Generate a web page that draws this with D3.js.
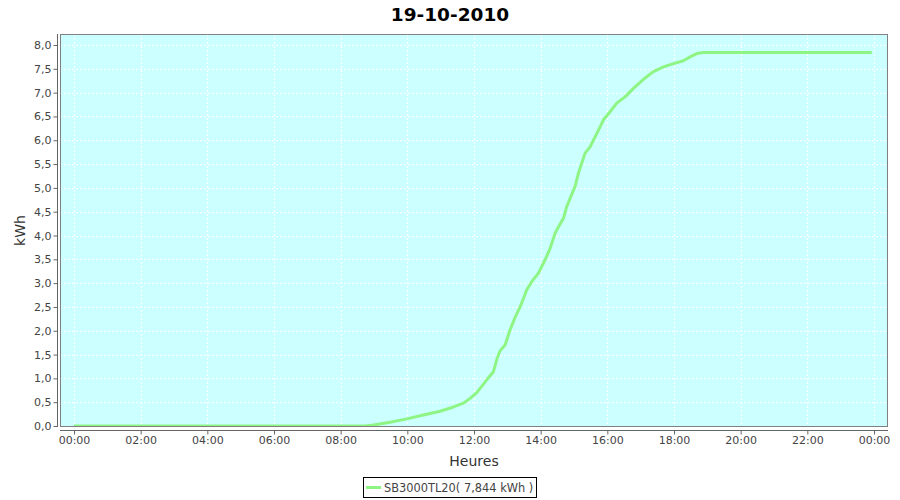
<!DOCTYPE html>
<html>
<head>
<meta charset="utf-8">
<script src="https://cdn.jsdelivr.net/npm/d3@7"></script>
<style>
  html, body { margin: 0; padding: 0; background: #ffffff; }
  svg { display: block; font-family: "DejaVu Sans", sans-serif; }
</style>
</head>
<body>
<svg id="chart" width="900" height="500"></svg>
<script>
const chartTitle = "19-10-2010";
const xAxisTitle = "Heures";
const yAxisTitle = "kWh";
const seriesName = "SB3000TL20( 7,844 kWh )";

const times = ["00:00","08:44","08:59","09:29","09:59","10:29","10:59","11:23","11:41","11:53",
  "12:05","12:23","12:35","12:41","12:47","12:56","13:05","13:14","13:23","13:35",
  "13:44","13:56","14:08","14:17","14:26","14:32","14:41","14:47","14:53","15:02",
  "15:08","15:14","15:20","15:29","15:38","15:47","15:53","16:05","16:17","16:32",
  "16:47","17:05","17:23","17:41","17:59","18:17","18:29","18:41","18:53","23:56"];
const values = [0,0,0.02,0.08,0.15,0.23,0.31,0.40,0.48,0.58,
  0.70,0.97,1.14,1.40,1.58,1.70,2.02,2.28,2.50,2.86,
  3.03,3.21,3.49,3.73,4.05,4.18,4.36,4.61,4.78,5.03,
  5.31,5.52,5.73,5.86,6.07,6.28,6.43,6.60,6.78,6.91,
  7.09,7.28,7.44,7.54,7.61,7.67,7.75,7.82,7.844,7.844];

const xTickHours = [0,2,4,6,8,10,12,14,16,18,20,22,24];
const xTickLabels = ["00:00","02:00","04:00","06:00","08:00","10:00","12:00","14:00","16:00","18:00","20:00","22:00","00:00"];
const yTicks = [0,0.5,1,1.5,2,2.5,3,3.5,4,4.5,5,5.5,6,6.5,7,7.5,8];

const toHours = s => { const [h, m] = s.split(":").map(Number); return h + m / 60; };
const data = times.map((t, i) => ({ x: toHours(t), y: values[i] }));

const plot = { left: 60, right: 888, top: 34, bottom: 427 };
const svg = d3.select("#chart");

const x = d3.scaleLinear().domain([-0.42, 24.42]).range([plot.left, plot.right]);
const y = d3.scaleLinear().domain([-0.021, 8.231]).range([plot.bottom, plot.top]);

// title
svg.append("text").attr("x", 450).attr("y", 21).attr("text-anchor", "middle")
  .attr("font-size", 18.5).attr("font-weight", "bold").attr("fill", "#000").text(chartTitle);

// plot background
svg.append("rect").attr("x", plot.left).attr("y", plot.top)
  .attr("width", plot.right - plot.left).attr("height", plot.bottom - plot.top)
  .attr("fill", "#ccffff");

// grid lines
const grid = svg.append("g").attr("stroke", "#ffffff").attr("stroke-width", 1)
  .attr("stroke-dasharray", "2,2").attr("shape-rendering", "crispEdges");
grid.selectAll("line.v").data(xTickHours).join("line").attr("class", "v")
  .attr("x1", d => Math.round(x(d)) + 0.5).attr("x2", d => Math.round(x(d)) + 0.5)
  .attr("y1", plot.top).attr("y2", plot.bottom);
grid.selectAll("line.h").data(yTicks).join("line").attr("class", "h")
  .attr("y1", d => Math.round(y(d)) + 0.5).attr("y2", d => Math.round(y(d)) + 0.5)
  .attr("x1", plot.left).attr("x2", plot.right);

// clip
svg.append("clipPath").attr("id", "clip").append("rect")
  .attr("x", plot.left).attr("y", plot.top)
  .attr("width", plot.right - plot.left).attr("height", plot.bottom - plot.top);

// series line
const line = d3.line().x(d => x(d.x)).y(d => y(d.y));
svg.append("path").datum(data).attr("clip-path", "url(#clip)")
  .attr("fill", "none").attr("stroke", "#8ef584").attr("stroke-width", 3)
  .attr("stroke-linejoin", "round").attr("d", line);

// plot border
svg.append("rect").attr("x", plot.left + 0.5).attr("y", plot.top + 0.5)
  .attr("width", plot.right - plot.left - 1).attr("height", plot.bottom - plot.top - 1)
  .attr("fill", "none").attr("stroke", "#808080").attr("stroke-width", 1);

// y axis
const yAxis = d3.axisLeft(y).tickValues(yTicks).tickSize(4).tickPadding(2)
  .tickFormat(d => d3.format(".1f")(d).replace(".", ","));
const gy = svg.append("g").attr("transform", "translate(57.5,0)").call(yAxis);
gy.select(".domain").attr("d", `M0,${plot.top}V${plot.bottom}`).attr("stroke", "#666");
gy.selectAll(".tick line").attr("stroke", "#666");
gy.selectAll(".tick text").attr("fill", "#444").attr("font-size", 11)
  .attr("font-family", "DejaVu Sans, sans-serif");

// x axis
const xAxis = d3.axisBottom(x).tickValues(xTickHours).tickSize(4).tickPadding(2)
  .tickFormat((d, i) => xTickLabels[i]);
const gx = svg.append("g").attr("transform", "translate(0,430.5)").call(xAxis);
gx.select(".domain").attr("d", `M${plot.left},0H${plot.right}`).attr("stroke", "#666");
gx.selectAll(".tick line").attr("stroke", "#666");
gx.selectAll(".tick text").attr("fill", "#444").attr("font-size", 11)
  .attr("font-family", "DejaVu Sans, sans-serif");

// axis titles
svg.append("text").attr("x", (plot.left + plot.right) / 2).attr("y", 466)
  .attr("text-anchor", "middle").attr("font-size", 14)
  .attr("fill", "#333").text(xAxisTitle);
svg.append("text").attr("transform", `translate(25,${(plot.top + plot.bottom) / 2}) rotate(-90)`)
  .attr("text-anchor", "middle").attr("font-size", 14)
  .attr("fill", "#333").text(yAxisTitle);

// legend
const lg = svg.append("g");
lg.append("rect").attr("x", 363.5).attr("y", 477.5).attr("width", 173).attr("height", 20)
  .attr("fill", "#fff").attr("stroke", "#000").attr("stroke-width", 1);
lg.append("line").attr("x1", 366).attr("x2", 381).attr("y1", 487.5).attr("y2", 487.5)
  .attr("stroke", "#8ef584").attr("stroke-width", 3);
lg.append("text").attr("x", 384).attr("y", 491.5).attr("font-size", 11.4)
  .attr("fill", "#444").text(seriesName);
</script>
</body>
</html>
